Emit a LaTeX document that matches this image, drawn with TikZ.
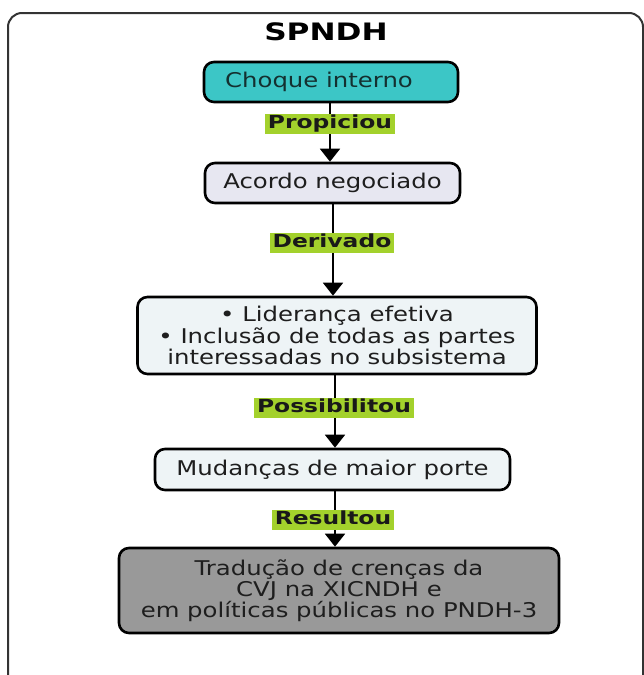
\documentclass[tikz,border=0pt]{standalone}
\usepackage{fontspec}
\setmainfont{DejaVu Sans}[FakeStretch=1.2, BoldFeatures={FakeStretch=1.3}]
\usetikzlibrary{arrows.meta}

\definecolor{shockfill}{HTML}{3CC6C6}
\definecolor{dealfill}{HTML}{E7E7F1}
\definecolor{palefill}{HTML}{EEF4F6}
\definecolor{resultfill}{HTML}{999999}
\definecolor{tagfill}{HTML}{A3D12C}
\definecolor{frameline}{HTML}{333333}
\definecolor{inktext}{HTML}{1E1E1E}
\definecolor{shocktext}{HTML}{143030}

\tikzset{
  flowbox/.style={draw=black, line width=2.6pt, rounded corners=10pt,
    align=center, text=inktext, inner sep=0pt,
    font=\fontsize{20.3}{21.2}\selectfont},
  tag/.style={fill=tagfill, inner xsep=3pt, inner ysep=1.5pt,
    text height=13pt, text depth=3.5pt, text=black!90,
    font=\bfseries\fontsize{18}{19}\selectfont},
  flow/.style={line width=1.8pt, -{Triangle[length=13pt,width=20pt]}},
}

\begin{document}
\begin{tikzpicture}[x=1pt,y=-1pt]
  \useasboundingbox (0,0) rectangle (644,675);

  % outer panel, running off the right and bottom edges
  \begin{scope}
    \clip (0,0) rectangle (644,675);
    \draw[frameline, line width=2pt, rounded corners=14pt]
      (8,13) rectangle (643,700);
  \end{scope}

  \node[font=\bfseries\fontsize{24}{26}\selectfont] (title) at (326,32) {SPNDH};

  % boxes
  \node[flowbox, fill=shockfill, text=shocktext, minimum width=254pt, minimum height=40pt]
    (shock) at (331,82) {Choque interno\hspace*{24pt}};
  \node[flowbox, fill=dealfill, minimum width=255pt, minimum height=40pt]
    (deal) at (332.5,183) {Acordo negociado};
  \node[flowbox, fill=palefill, minimum width=399pt, minimum height=77pt]
    (lead) at (337,335.5) {• Liderança efetiva\\• Inclusão de todas as partes\\interessadas no subsistema};
  \node[flowbox, fill=palefill, minimum width=355pt, minimum height=41pt]
    (change) at (332.5,469.5) {Mudanças de maior porte};
  \node[flowbox, fill=resultfill, minimum width=440pt, minimum height=85pt]
    (result) at (339,590.5) {Tradução de crenças da\\CVJ na XICNDH e\\em políticas públicas no PNDH-3};

  % connectors
  \draw[flow] (shock.south -| 330,0) -- (deal.north -| 330,0);
  \draw[flow] (deal.south -| 333,0) -- (lead.north -| 333,0);
  \draw[flow] (lead.south -| 335,0) -- (change.north -| 335,0);
  \draw[flow] (change.south -| 335,0) -- (result.north -| 335,0);

  % connector labels
  \node[tag] (t1) at (330,124) {Propiciou};
  \node[tag] (t2) at (332,243) {Derivado};
  \node[tag] (t3) at (334,408) {Possibilitou};
  \node[tag] (t4) at (333,520) {Resultou};
\end{tikzpicture}
\end{document}
